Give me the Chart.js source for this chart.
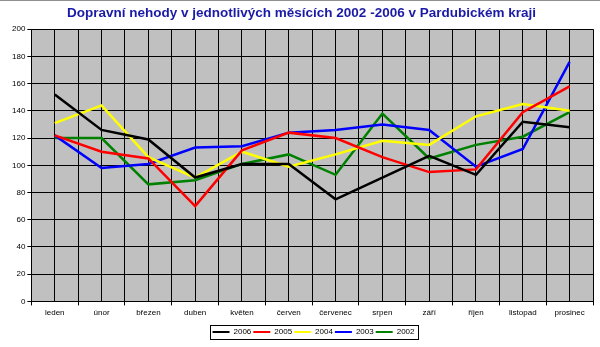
<!DOCTYPE html>
<html>
<head>
<meta charset="utf-8">
<script src="https://cdn.jsdelivr.net/npm/chart.js@4"></script>
<style>
  html, body { margin: 0; padding: 0; background: #fff; }
  #wrap { width: 600px; height: 347px; position: relative; }
</style>
</head>
<body>
<div id="wrap"><canvas id="chart"></canvas></div>
<script>
// Dopravní nehody po měsících, Pardubický kraj
const months = ['leden', 'únor', 'březen', 'duben', 'květen', 'červen',
  'červenec', 'srpen', 'září', 'říjen', 'listopad', 'prosinec'];

const y2006 = [152, 126, 119, 91, 101, 101, 75, 91, 107, 93, 132, 128];
const y2005 = [122, 110, 105, 70, 111, 124, 120, 106, 95, 97, 139, 158];
const y2004 = [131, 144, 106, 91, 110, 99, 108, 118, 115, 136, 145, 140];
const y2003 = [122, 98, 101, 113, 114, 124, 126, 130, 126, 99, 112, 176];
const y2002 = [120, 120, 86, 89, 101, 108, 93, 138, 105, 115, 121, 139];

const yTicks = { min: 0, max: 200, step: 20 };

const series = [
  { label: '2006', data: y2006, color: '#000000' },
  { label: '2005', data: y2005, color: '#ff0000' },
  { label: '2004', data: y2004, color: '#ffff00' },
  { label: '2003', data: y2003, color: '#0000ff' },
  { label: '2002', data: y2002, color: '#008000' }
];

const font = { family: '"Liberation Sans", Arial, sans-serif', size: 8 };
const legendShift = 12; // legend sits a bit right of centre

// plot background, framed legend, top rule
const decor = {
  id: 'decor',
  afterLayout(chart) {
    chart.legend.left += legendShift;
    chart.legend.right += legendShift;
  },
  beforeDraw(chart) {
    const a = chart.chartArea, ctx = chart.ctx;
    ctx.save();
    ctx.fillStyle = '#c0c0c0';
    ctx.fillRect(a.left, a.top, a.right - a.left, a.bottom - a.top);
    ctx.restore();
  },
  afterDraw(chart) {
    const boxes = chart.legend.legendHitBoxes, ctx = chart.ctx;
    const left = Math.min(...boxes.map(b => b.left)) - 3;
    const right = Math.max(...boxes.map(b => b.left + b.width)) + 3;
    const top = Math.min(...boxes.map(b => b.top)) - 3;
    const bottom = Math.max(...boxes.map(b => b.top + b.height)) + 3;
    ctx.save();
    ctx.strokeStyle = '#000';
    ctx.lineWidth = 1;
    ctx.strokeRect(Math.round(left) + 0.5, Math.round(top) + 0.5,
      Math.round(right - left), Math.round(bottom - top));
    ctx.strokeStyle = '#909090';
    ctx.beginPath();
    ctx.moveTo(0, 0.5);
    ctx.lineTo(chart.width, 0.5);
    ctx.stroke();
    ctx.restore();
  }
};

new Chart(document.getElementById('chart'), {
  type: 'line',
  data: {
    labels: months,
    datasets: series.map(s => ({
      label: s.label, data: s.data,
      borderColor: s.color, backgroundColor: s.color,
      borderWidth: 2.5, pointRadius: 0, tension: 0, fill: false
    }))
  },
  options: {
    responsive: true, maintainAspectRatio: false, animation: false,
    layout: { padding: { left: 10, right: 7, top: 0, bottom: 1 } },
    plugins: {
      title: {
        display: true,
        text: 'Dopravní nehody v jednotlivých měsících 2002 -2006 v Pardubickém kraji',
        color: '#1a1aa6',
        font: { family: font.family, size: 13.5, weight: 'bold' },
        padding: { top: 5, bottom: 8 }
      },
      legend: {
        position: 'bottom',
        labels: {
          font: font, color: '#000',
          boxWidth: 17, boxHeight: 2, padding: 2,
          generateLabels(chart) {
            return chart.data.datasets.map((d, i) => ({
              text: d.label, fillStyle: d.borderColor, strokeStyle: d.borderColor,
              lineWidth: 0, datasetIndex: i, fontColor: '#000'
            }));
          }
        }
      },
      tooltip: { enabled: false }
    },
    scales: {
      x: {
        offset: true,
        grid: { offset: true, color: '#000', drawTicks: true, tickLength: 4 },
        border: { color: '#000' },
        ticks: { font: font, color: '#000', maxRotation: 0, autoSkip: false, padding: 3 },
        afterFit(axis) { axis.height += 5; }
      },
      x2: {
        position: 'top',
        labels: months,
        offset: true,
        grid: { offset: false, color: '#000', drawTicks: false },
        border: { display: false },
        ticks: { display: false }
      },
      y: {
        min: yTicks.min, max: yTicks.max,
        grid: { color: '#000', tickLength: 4 },
        border: { color: '#000' },
        ticks: { stepSize: yTicks.step, font: font, color: '#000', padding: 2 }
      }
    }
  },
  plugins: [decor]
});
</script>
</body>
</html>
